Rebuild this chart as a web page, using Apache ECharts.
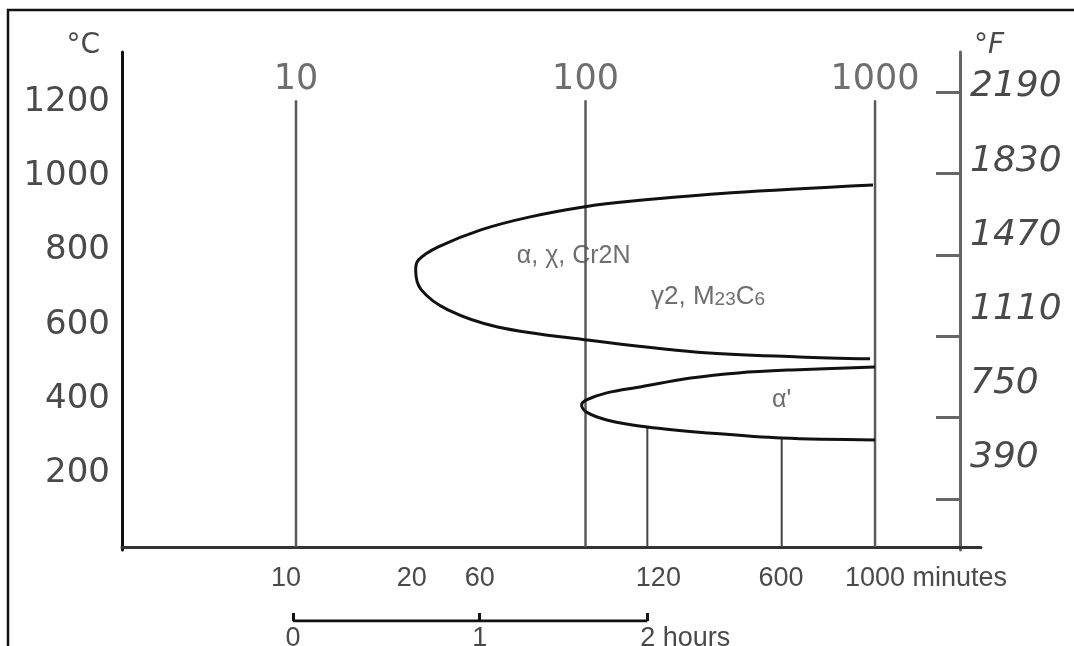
<!DOCTYPE html>
<html><head><meta charset="utf-8">
<script src="https://cdn.jsdelivr.net/npm/echarts@6/dist/echarts.min.js"></script>
<style>html,body{margin:0;padding:0;background:#fff}#c{width:1074px;height:646px}</style>
</head><body><div id="c"></div>
<script>
// ---- data ----
const celsiusTicks = [200, 400, 600, 800, 1000, 1200];
const fahrenheitTicks = [390, 750, 1110, 1470, 1830, 2190];
// time reference lines (minutes) with labels on top
const decadeTimes = [10, 100, 1000];
const decadeLabels = ['10', '100', '1000'];
const decadeLineTop = 1206; // °C
// bottom time labels and where they sit on the drawn time scale (minutes)
const bottomLabels = ['10', '20', '60', '120', '600', '1000 minutes'];
const bottomLabelTimes = [9.24, 25.1, 43.1, 178.5, 473, 1000];
// hours ruler
const hourLabels = ['0', '1', '2 hours'];
const hourTimes = [9.77, 43.1, 163.5];
// α, χ, Cr2N / γ2, M23C6 nose curve: time (min), temperature (°C)
const noseTime = [984, 319, 142.5, 100.8, 64.4, 43.5, 31.0, 26.5, 25.9, 27.1, 33.5, 49.7, 100.8, 244, 547, 961];
const noseTemp = [977, 956, 933, 919, 891, 856, 810, 775, 748, 694, 640, 594, 559, 526, 513, 508];
// α' curve
const alphaTime = [1000, 517, 337, 231, 154.5, 118.4, 100.8, 96.9, 100.8, 118.4, 163.5, 265, 476, 1000];
const alphaTemp = [486, 478, 470, 456, 432, 416, 397, 383, 364, 343, 324, 308, 294, 289];
// drop lines under the α' curve
const dropTimes = [163.5, 476];
const dropTops = [324, 294];
// phase labels
const phaseNames = ['α, χ, Cr2N', 'γ2, M23C6', "α'"];
const phaseTimes = [91, 265, 476];
const phaseTemps = [785, 675, 397];

// ---- build ----
const lg = Math.log10;
const X_MIN = 0.399, X_MAX = 3.366;
const key = v => Number(v).toFixed(4);
const bottomMap = {}; bottomLabelTimes.forEach((t, i) => bottomMap[key(lg(t))] = bottomLabels[i]);
const hourMap = {}; hourTimes.forEach((t, i) => hourMap[key(lg(t))] = hourLabels[i]);

const numFont = 'DejaVu Sans';
const smallFont = 'Liberation Sans';
const grey = '#4a4a4a';

const series = [];
decadeTimes.forEach((t) => {
  series.push({
    type: 'line', xAxisIndex: 0, yAxisIndex: 0, symbol: 'none', silent: true,
    lineStyle: { color: '#5a5a5a', width: 2.5 },
    data: [[lg(t), 0], [lg(t), decadeLineTop]]
  });
});
series.push({
  type: 'scatter', xAxisIndex: 0, yAxisIndex: 0, symbolSize: 0, silent: true,
  data: decadeTimes.map((t, i) => ({ name: decadeLabels[i], value: [lg(t), decadeLineTop] })),
  label: { show: true, position: 'top', distance: 3, formatter: p => p.name,
    fontFamily: numFont, fontSize: 35, color: grey }
});
dropTimes.forEach((t, i) => {
  series.push({
    type: 'line', xAxisIndex: 0, yAxisIndex: 0, symbol: 'none', silent: true,
    lineStyle: { color: '#444', width: 2 },
    data: [[lg(t), 0], [lg(t), dropTops[i]]]
  });
});
series.push({
  type: 'line', xAxisIndex: 0, yAxisIndex: 0, symbol: 'none', smooth: 0.35,
  lineStyle: { color: '#111', width: 3 },
  data: noseTime.map((t, i) => [lg(t), noseTemp[i]])
});
series.push({
  type: 'line', xAxisIndex: 0, yAxisIndex: 0, symbol: 'none', smooth: 0.35,
  lineStyle: { color: '#111', width: 3 },
  data: alphaTime.map((t, i) => [lg(t), alphaTemp[i]])
});
series.push({
  type: 'scatter', xAxisIndex: 0, yAxisIndex: 0, symbolSize: 0, silent: true,
  data: phaseNames.map((n, i) => ({ name: n, value: [lg(phaseTimes[i]), phaseTemps[i]] })),
  label: {
    show: true, position: 'inside', color: grey, fontFamily: smallFont, fontSize: 25,
    formatter: p => p.name === 'γ2, M23C6' ? '{a|γ2, M}{b|23}{a|C}{b|6}' : p.name,
    rich: {
      a: { fontFamily: smallFont, fontSize: 26, color: grey },
      b: { fontFamily: smallFont, fontSize: 19, color: grey, padding: [6, 0, 0, 0] }
    }
  }
});
// hours ruler line
series.push({
  type: 'line', xAxisIndex: 1, yAxisIndex: 3, symbol: 'none', silent: true,
  lineStyle: { color: '#111', width: 3 },
  data: [[lg(hourTimes[0]), 0], [lg(hourTimes[hourTimes.length - 1]), 0]]
});

const plain = v => String(Math.round(v));

const option = {
  animation: false,
  backgroundColor: '#fff',
  graphic: [{ type: 'rect', shape: { x: 8, y: 10, width: 1200, height: 800 },
    style: { fill: 'none', stroke: '#111', lineWidth: 2.5 }, silent: true }],
  grid: [
    { left: 122, right: 93, top: 52, bottom: 96, outerBoundsMode: 'none', containLabel: false },
    { left: 122, right: 93, top: 600, bottom: 25, outerBoundsMode: 'none', containLabel: false }
  ],
  xAxis: [
    { type: 'value', gridIndex: 0, min: X_MIN, max: X_MAX, splitLine: { show: false },
      axisLine: { show: true, lineStyle: { color: '#333', width: 3 } },
      axisTick: { show: false },
      axisLabel: { customValues: bottomLabelTimes.map(lg), margin: 15,
        fontFamily: smallFont, fontSize: 27, color: grey,
        formatter: v => { const s = bottomMap[key(v)] || ''; return s.indexOf(' ') > 0 ? '{m|' + s + '}' : s; },
        rich: { m: { fontFamily: smallFont, fontSize: 27, color: grey, padding: [0, 0, 0, 102] } } } },
    { type: 'value', gridIndex: 1, min: X_MIN, max: X_MAX, splitLine: { show: false },
      axisLine: { show: false },
      axisTick: { show: true, inside: true, length: 8, customValues: hourTimes.map(lg),
        lineStyle: { color: '#111', width: 3 } },
      axisLabel: { customValues: hourTimes.map(lg), margin: 4,
        fontFamily: smallFont, fontSize: 27, color: grey,
        formatter: v => { const s = hourMap[key(v)] || ''; return s.indexOf(' ') > 0 ? '{h|' + s + '}' : s; },
        rich: { h: { fontFamily: smallFont, fontSize: 27, color: grey, padding: [0, 0, 0, 76] } } } }
  ],
  yAxis: [
    { type: 'value', gridIndex: 0, position: 'left', min: -8, max: 1336, splitLine: { show: false },
      name: '°C', nameLocation: 'end', nameGap: -8,
      nameTextStyle: { fontFamily: numFont, fontSize: 28, color: grey, align: 'right', verticalAlign: 'bottom', padding: [0, 22, 0, 0] },
      axisLine: { show: true, lineStyle: { color: '#111', width: 3 } },
      axisTick: { show: false },
      axisLabel: { customValues: celsiusTicks, margin: 12, fontFamily: numFont, fontSize: 34, color: grey, formatter: plain } },
    { type: 'value', gridIndex: 0, position: 'right', offset: -21, min: -56, max: 2360, splitLine: { show: false },
      name: '°F', nameLocation: 'end', nameGap: -8,
      nameTextStyle: { fontFamily: numFont, fontSize: 28, fontStyle: 'italic', color: grey, align: 'left', verticalAlign: 'bottom', padding: [0, 0, 0, 14] },
      axisLine: { show: false }, axisTick: { show: false },
      axisLabel: { customValues: fahrenheitTicks, margin: 10, fontFamily: numFont, fontSize: 36, fontStyle: 'italic', color: grey, formatter: plain } },
    { type: 'value', gridIndex: 0, position: 'right', offset: -21, min: 164, max: 2367, splitLine: { show: false },
      axisLine: { show: true, lineStyle: { color: '#666', width: 3 } },
      axisTick: { show: true, inside: true, length: 24, customValues: fahrenheitTicks, lineStyle: { color: '#666', width: 3 } },
      axisLabel: { show: false } },
    { type: 'value', gridIndex: 1, min: 0, max: 1, show: false }
  ],
  series: series
};
const chart = echarts.init(document.getElementById('c'), null, { renderer: 'canvas' });
chart.setOption(option);
</script>
</body></html>
